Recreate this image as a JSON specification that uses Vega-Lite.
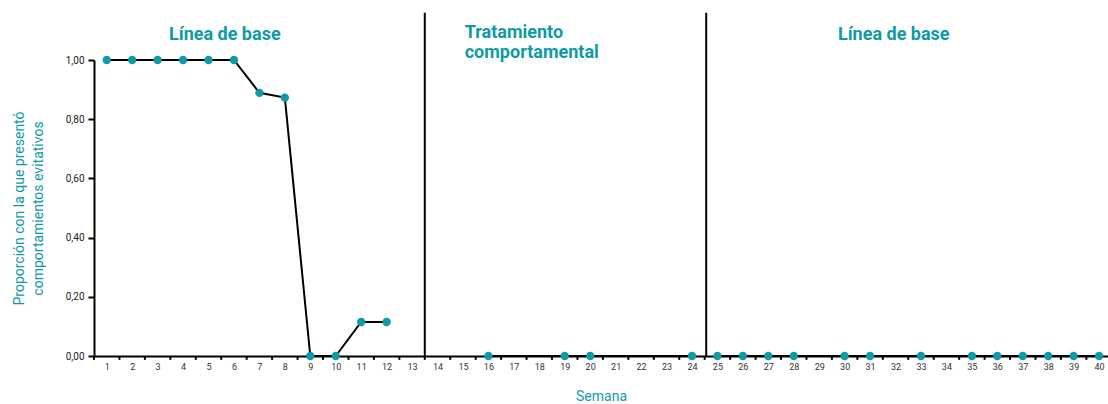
{
  "$schema": "https://vega.github.io/schema/vega-lite/v6.json",
  "width": 1014,
  "height": 296,
  "autosize": "none",
  "padding": {"left": 94, "top": 60, "right": 0, "bottom": 48},
  "background": "white",
  "config": {
    "font": "Roboto",
    "view": {"stroke": null},
    "axis": {"labelOverlap": false}
  },
  "datasets": {
    "obs": [
      {"semana": 1, "proporcion": 1.0, "fase": "A1"},
      {"semana": 2, "proporcion": 1.0, "fase": "A1"},
      {"semana": 3, "proporcion": 1.0, "fase": "A1"},
      {"semana": 4, "proporcion": 1.0, "fase": "A1"},
      {"semana": 5, "proporcion": 1.0, "fase": "A1"},
      {"semana": 6, "proporcion": 1.0, "fase": "A1"},
      {"semana": 7, "proporcion": 0.889, "fase": "A1"},
      {"semana": 8, "proporcion": 0.873, "fase": "A1"},
      {"semana": 9, "proporcion": 0.0, "fase": "A1"},
      {"semana": 10, "proporcion": 0.0, "fase": "A1"},
      {"semana": 11, "proporcion": 0.115, "fase": "A1"},
      {"semana": 12, "proporcion": 0.115, "fase": "A1"},
      {"semana": 16, "proporcion": 0.0, "fase": "B"},
      {"semana": 19, "proporcion": 0.0, "fase": "B"},
      {"semana": 20, "proporcion": 0.0, "fase": "B"},
      {"semana": 24, "proporcion": 0.0, "fase": "B"},
      {"semana": 25, "proporcion": 0.0, "fase": "A2"},
      {"semana": 26, "proporcion": 0.0, "fase": "A2"},
      {"semana": 27, "proporcion": 0.0, "fase": "A2"},
      {"semana": 28, "proporcion": 0.0, "fase": "A2"},
      {"semana": 30, "proporcion": 0.0, "fase": "A2"},
      {"semana": 31, "proporcion": 0.0, "fase": "A2"},
      {"semana": 33, "proporcion": 0.0, "fase": "A2"},
      {"semana": 35, "proporcion": 0.0, "fase": "A2"},
      {"semana": 36, "proporcion": 0.0, "fase": "A2"},
      {"semana": 37, "proporcion": 0.0, "fase": "A2"},
      {"semana": 38, "proporcion": 0.0, "fase": "A2"},
      {"semana": 39, "proporcion": 0.0, "fase": "A2"},
      {"semana": 40, "proporcion": 0.0, "fase": "A2"}
    ],
    "cambios": [
      {"x": 13.5, "y": 0, "y2": 1.16},
      {"x": 24.56, "y": 0, "y2": 1.16}
    ],
    "etiquetasCentro": [
      {"x": 5.64, "y": 1.084, "texto": "Línea de base"},
      {"x": 31.93, "y": 1.084, "texto": "Línea de base"}
    ],
    "etiquetasIzq": [
      {"x": 15.07, "y": 1.092, "texto": "Tratamiento"},
      {"x": 15.07, "y": 1.024, "texto": "comportamental"}
    ],
    "ticks": [
      {"t": 0.5}, {"t": 1.5}, {"t": 2.5}, {"t": 3.5}, {"t": 4.5}, {"t": 5.5}, {"t": 6.5}, {"t": 7.5}, {"t": 8.5}, {"t": 9.5},
      {"t": 10.5}, {"t": 11.5}, {"t": 12.5}, {"t": 13.5}, {"t": 14.5}, {"t": 15.5}, {"t": 16.5}, {"t": 17.5}, {"t": 18.5}, {"t": 19.5},
      {"t": 20.5}, {"t": 21.5}, {"t": 22.5}, {"t": 23.5}, {"t": 24.5}, {"t": 25.5}, {"t": 26.5}, {"t": 27.5}, {"t": 28.5}, {"t": 29.5},
      {"t": 30.5}, {"t": 31.5}, {"t": 32.5}, {"t": 33.5}, {"t": 34.5}, {"t": 35.5}, {"t": 36.5}, {"t": 37.5}, {"t": 38.5}, {"t": 39.5}
    ]
  },
  "layer": [
    {
      "data": {"name": "ticks"},
      "mark": {"type": "rule", "color": "black", "strokeWidth": 2},
      "encoding": {
        "x": {
          "field": "t", "type": "quantitative",
          "scale": {"domain": [0.5, 40.35], "nice": false, "zero": false},
          "axis": {
            "title": "Semana",
            "titleColor": "#0f9aa6",
            "titleFont": "Roboto",
            "titleFontSize": 14,
            "titleFontWeight": "normal",
            "titlePadding": 18,
            "values": [1,2,3,4,5,6,7,8,9,10,11,12,13,14,15,16,17,18,19,20,21,22,23,24,25,26,27,28,29,30,31,32,33,34,35,36,37,38,39,40],
            "tickCount": 60,
            "format": "d",
            "labelFontSize": 9,
            "labelColor": "#333333",
            "labelPadding": 6,
            "labelFlush": false,
            "labelOverlap": false,
            "labelBound": false,
            "labelSeparation": 0,
            "ticks": false,
            "grid": false,
            "domainColor": "black",
            "domainWidth": 2
          }
        },
        "y": {"datum": 0, "type": "quantitative"},
        "y2": {"datum": -0.013}
      }
    },
    {
      "data": {"name": "cambios"},
      "mark": {"type": "rule", "color": "black", "strokeWidth": 2},
      "encoding": {
        "x": {"field": "x", "type": "quantitative"},
        "y": {"field": "y", "type": "quantitative",
          "scale": {"domain": [0, 1], "nice": false},
          "axis": {
            "title": ["Proporción con la que presentó", "comportamientos evitativos"],
            "titleColor": "#0f9aa6",
            "titleFont": "Roboto",
            "titleFontSize": 14,
            "titleFontWeight": "normal",
            "titlePadding": 20,
            "titleLineHeight": 19,
            "values": [0, 0.2, 0.4, 0.6, 0.8, 1.0],
            "labelExpr": "replace(format(datum.value, '.2f'), '.', ',')",
            "labelFontSize": 10,
            "labelColor": "#222222",
            "labelPadding": 4,
            "tickSize": 6,
            "tickWidth": 2,
            "tickColor": "black",
            "grid": false,
            "domainColor": "black",
            "domainWidth": 2
          }
        },
        "y2": {"field": "y2"}
      }
    },
    {
      "data": {"name": "obs"},
      "mark": {"type": "line", "color": "black", "strokeWidth": 2},
      "encoding": {
        "x": {"field": "semana", "type": "quantitative"},
        "y": {"field": "proporcion", "type": "quantitative"},
        "detail": {"field": "fase"}
      }
    },
    {
      "data": {"name": "obs"},
      "mark": {"type": "point", "filled": true, "color": "#0f9aa6", "size": 70, "opacity": 1},
      "encoding": {
        "x": {"field": "semana", "type": "quantitative"},
        "y": {"field": "proporcion", "type": "quantitative"}
      }
    },
    {
      "data": {"name": "etiquetasCentro"},
      "mark": {"type": "text", "color": "#0f9aa6", "fontSize": 18, "fontWeight": "bold", "font": "Roboto", "baseline": "middle", "align": "center"},
      "encoding": {
        "x": {"field": "x", "type": "quantitative"},
        "y": {"field": "y", "type": "quantitative"},
        "text": {"field": "texto"}
      }
    },
    {
      "data": {"name": "etiquetasIzq"},
      "mark": {"type": "text", "color": "#0f9aa6", "fontSize": 18, "fontWeight": "bold", "font": "Roboto", "baseline": "middle", "align": "left"},
      "encoding": {
        "x": {"field": "x", "type": "quantitative"},
        "y": {"field": "y", "type": "quantitative"},
        "text": {"field": "texto"}
      }
    }
  ]
}
